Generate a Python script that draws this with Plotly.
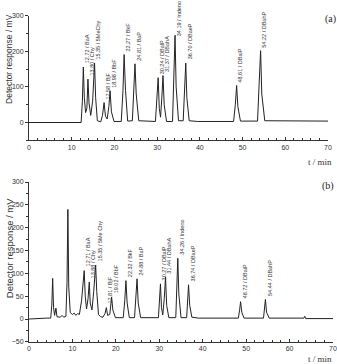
import plotly.graph_objects as go

# ---------------- data ----------------
# panel (a): trace vertices (time / min, response / mV)
t_a = [0, 12.2, 12.5, 12.72, 12.95, 13.25, 13.55, 13.8, 14.05, 14.45, 14.9, 15.2, 15.35, 15.6, 16.0, 16.8,
       17.2, 17.58, 17.9, 18.3, 18.7, 18.98, 19.3, 19.9, 21.6, 22.0, 22.27, 22.6, 23.1, 24.2, 24.55, 24.81,
       25.1, 25.7, 29.6, 29.95, 30.24, 30.5, 30.8, 31.1, 31.37, 31.65, 32.2, 33.6, 33.95, 34.19, 34.45,
       35.0, 36.1, 36.45, 36.70, 36.95, 37.5, 39.5, 47.9, 48.3, 48.61, 48.9, 49.5, 53.5, 53.9, 54.22,
       54.5, 55.2, 70]
v_a = [0, 0, 60, 156, 70, 28, 40, 122, 55, 20, 60, 150, 167, 70, 5, 2,
       20, 56, 18, 10, 45, 89, 30, 3, 3, 90, 191, 90, 4, 5, 110, 165,
       80, 5, 3, 70, 126, 40, 15, 70, 132, 50, 3, 3, 130, 245, 100,
       5, 5, 90, 167, 70, 5, 3, 3, 50, 104, 45, 4, 4, 100, 202,
       80, 5, 4]

# panel (b)
t_b = [0, 2, 3, 4, 5.0, 5.25, 5.45, 5.65, 5.9, 6.2, 6.45, 7.2, 7.6, 8.0, 8.5, 8.75, 8.95, 9.15, 9.5,
       10.0, 10.4, 10.8, 11.2, 11.6, 12.1, 12.45, 12.71, 12.95, 13.25, 13.6, 13.88, 14.1, 14.5, 14.9,
       15.2, 15.35, 15.6, 16.0, 16.5, 17.0, 17.5, 17.81, 18.1, 18.6, 19.02, 19.3, 19.9, 21.7, 22.05,
       22.32, 22.6, 23.1, 24.3, 24.6, 24.88, 25.15, 25.7, 29.8, 30.05, 30.27, 30.5, 30.8, 31.15, 31.44,
       31.7, 32.2, 33.8, 34.05, 34.26, 34.5, 35.0, 36.3, 36.55, 36.74, 37.0, 37.5, 39.0, 48.2, 48.5,
       48.72, 49.0, 49.5, 54.0, 54.25, 54.44, 54.7, 55.3, 63.3, 63.5, 63.7, 70]
v_b = [0, 1, 3, 2, 2, 30, 89, 25, 8, 24, 5, 4, 8, 4, 6, 80, 240, 70, 14,
       10, 13, 8, 12, 10, 40, 70, 106, 50, 22, 45, 81, 35, 20, 60,
       105, 118, 60, 10, 5, 4, 12, 25, 8, 10, 48, 20, 3, 3, 40,
       84, 35, 3, 3, 40, 88, 35, 3, 3, 40, 77, 25, 9, 45, 92,
       30, 3, 3, 70, 133, 55, 3, 3, 40, 75, 30, 4, 2, 2, 20,
       38, 15, 2, 2, 22, 43, 15, 2, 2, 6, 1, 1]

# peak labels
pk_t_a = [12.72, 13.80, 15.35, 17.58, 18.98, 22.27, 24.81, 30.24, 31.37, 34.19, 36.70, 48.61, 54.22]
pk_v_a = [156, 122, 167, 56, 89, 191, 165, 126, 132, 245, 167, 104, 202]
pk_n_a = ["BaA", "Chy", "5MeChy", "BjF", "BbF", "BkF", "BaP", "DBalP", "DBahA", "Indeno",
          "DBaeP", "DBaiP", "DBahP"]

pk_t_b = [12.71, 13.88, 15.35, 17.81, 19.02, 22.32, 24.88, 30.27, 31.44, 34.26, 36.74, 48.72, 54.44]
pk_v_b = [106, 81, 118, 25, 48, 84, 88, 77, 92, 133, 75, 38, 43]
pk_n_b = ["BaA", "Chy", "5Me Chy", "BjF", "BbF", "BkF", "BaP", "DBalP", "DBahA", "Indeno",
          "DBaeP", "DBaiP", "DBahP"]

y_title = "Detector response / mV"
x_title = "t / min"

# ---------------- figure ----------------
W, H = 337, 364
ML, MR = 29, 4
pw = W - ML - MR

def px_x(px):
    return (px - ML) / pw

def px_y(py):
    return 1 - py / H

line = dict(color="#222222", width=1)
fig = go.Figure()
fig.add_trace(go.Scatter(x=t_a, y=v_a, mode="lines", line=line, xaxis="x", yaxis="y",
                         showlegend=False, hoverinfo="skip"))
fig.add_trace(go.Scatter(x=t_b, y=v_b, mode="lines", line=line, xaxis="x2", yaxis="y2",
                         showlegend=False, hoverinfo="skip"))

tickfont = dict(family="Liberation Sans, Arial, sans-serif", size=7, color="#333")
axcommon = dict(showgrid=False, zeroline=False, showline=True, linecolor="#333", linewidth=1,
                tickfont=tickfont, tickcolor="#333", ticklen=3, tickwidth=1)

xa = dict(axcommon, range=[0, 70], dtick=10, ticks="inside",
          minor=dict(dtick=2, ticks="inside", ticklen=2, tickcolor="#333"))
fig.update_layout(
    width=W, height=H,
    margin=dict(l=ML, r=MR, t=0, b=0),
    paper_bgcolor="white", plot_bgcolor="white",
    xaxis=dict(xa, domain=[0, px_x(328)], anchor="y"),
    yaxis=dict(axcommon, range=[-50, 300], tickvals=[0, 100, 200, 300], ticks="outside",
               domain=[px_y(139), px_y(12)], anchor="x",
               minor=dict(tickvals=[-50, 50, 150, 250], ticks="outside", ticklen=2, tickcolor="#333")),
    xaxis2=dict(xa, domain=[0, 1], anchor="y2"),
    yaxis2=dict(axcommon, range=[-50, 300], dtick=50, ticks="outside",
                domain=[px_y(344.5), px_y(181.5)], anchor="x2",
                minor=dict(dtick=25, ticks="outside", ticklen=2, tickcolor="#333")),
)

ann = []
lblfont = dict(family="Liberation Sans, Arial, sans-serif", size=5.5, color="#333")
for tt, vv, nn in zip(pk_t_a, pk_v_a, pk_n_a):
    ann.append(dict(x=tt + 0.9, y=min(vv + 4, 238), xref="x", yref="y", text=f"{tt:.2f} / {nn}",
                    textangle=-90, showarrow=False, xanchor="center", yanchor="bottom", font=lblfont))
for tt, vv, nn in zip(pk_t_b, pk_v_b, pk_n_b):
    ann.append(dict(x=tt + 0.9, y=vv + 4, xref="x2", yref="y2", text=f"{tt:.2f} / {nn}",
                    textangle=-90, showarrow=False, xanchor="center", yanchor="bottom", font=lblfont))

ann.append(dict(x=px_x(9), y=px_y(56), xref="paper", yref="paper", text=y_title, textangle=-90,
                showarrow=False, xanchor="center", yanchor="middle",
                font=dict(family="Liberation Sans, Arial, sans-serif", size=8.5, color="#333")))
ann.append(dict(x=px_x(9), y=px_y(249), xref="paper", yref="paper", text=y_title, textangle=-90,
                showarrow=False, xanchor="center", yanchor="middle",
                font=dict(family="Liberation Sans, Arial, sans-serif", size=9.5, color="#333")))
xtfont = dict(family="Liberation Serif, Times New Roman, serif", size=9, color="#333")
ann.append(dict(x=px_x(334), y=px_y(161), xref="paper", yref="paper", text=x_title,
                showarrow=False, xanchor="right", yanchor="middle", font=xtfont))
ann.append(dict(x=px_x(334), y=px_y(362), xref="paper", yref="paper", text=x_title,
                showarrow=False, xanchor="right", yanchor="middle", font=xtfont))
pfont = dict(family="Liberation Serif, Times New Roman, serif", size=10, color="#222")
ann.append(dict(x=px_x(330), y=px_y(15), xref="paper", yref="paper", text="(a)",
                showarrow=False, xanchor="center", yanchor="middle", font=pfont))
ann.append(dict(x=px_x(328), y=px_y(186), xref="paper", yref="paper", text="(b)",
                showarrow=False, xanchor="center", yanchor="middle", font=pfont))
fig.update_layout(annotations=ann)

fig.write_html("out.html")
